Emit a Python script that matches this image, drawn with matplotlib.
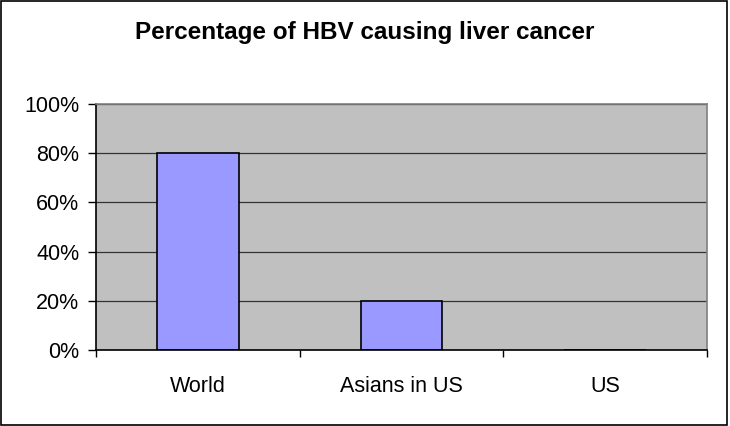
import matplotlib
matplotlib.use("Agg")
import matplotlib.pyplot as plt
from matplotlib.patches import Rectangle
from matplotlib.ticker import FuncFormatter

categories = ["World", "Asians in US", "US"]
values = [80, 20, 0]
yticks = [0, 20, 40, 60, 80, 100]
title = "Percentage of HBV causing liver cancer"

plt.rcParams["font.family"] = ["Liberation Sans", "DejaVu Sans"]

fig = plt.figure(figsize=(7.3, 4.26), dpi=100)
ax = fig.add_axes([96 / 730, 1 - 350 / 426, (707 - 96) / 730, (350 - 104) / 426])
ax.set_facecolor("#C0C0C0")

x = list(range(len(categories)))
ax.bar(x, values, width=0.4, color="#9999FF", edgecolor="black", linewidth=1.2, zorder=3)

ax.set_xlim(-0.5, len(categories) - 0.5)
ax.set_ylim(0, 100)
ax.set_yticks(yticks)
ax.yaxis.set_major_formatter(FuncFormatter(lambda v, p: f"{int(v)}%"))
ax.grid(axis="y", color="#333333", linewidth=0.9, zorder=1)

ax.set_xticks(x)
ax.set_xticklabels(categories)
ax.set_xticks([i - 0.5 for i in range(len(categories) + 1)], minor=True)
ax.tick_params(axis="x", which="major", length=0, pad=19, labelsize=15.5)
ax.tick_params(axis="x", which="minor", length=5, width=1, direction="out")
ax.tick_params(axis="y", length=6, width=1, direction="out", pad=6, labelsize=15.5)

for side in ("top", "right"):
    ax.spines[side].set_color("#808080")
    ax.spines[side].set_linewidth(1.2)
for side in ("left", "bottom"):
    ax.spines[side].set_color("black")
    ax.spines[side].set_linewidth(1.2)
ax.spines["bottom"].set_zorder(4)

fig.text(0.5, 1 - 32 / 426, title, ha="center", va="center", fontsize=17.5, fontweight="bold")

fig.patches.append(Rectangle((1 / 730, 1 / 426), 726 / 730, 424 / 426, transform=fig.transFigure,
                             fill=False, edgecolor="black", linewidth=1.2))

fig.savefig("out.png", dpi=100)
